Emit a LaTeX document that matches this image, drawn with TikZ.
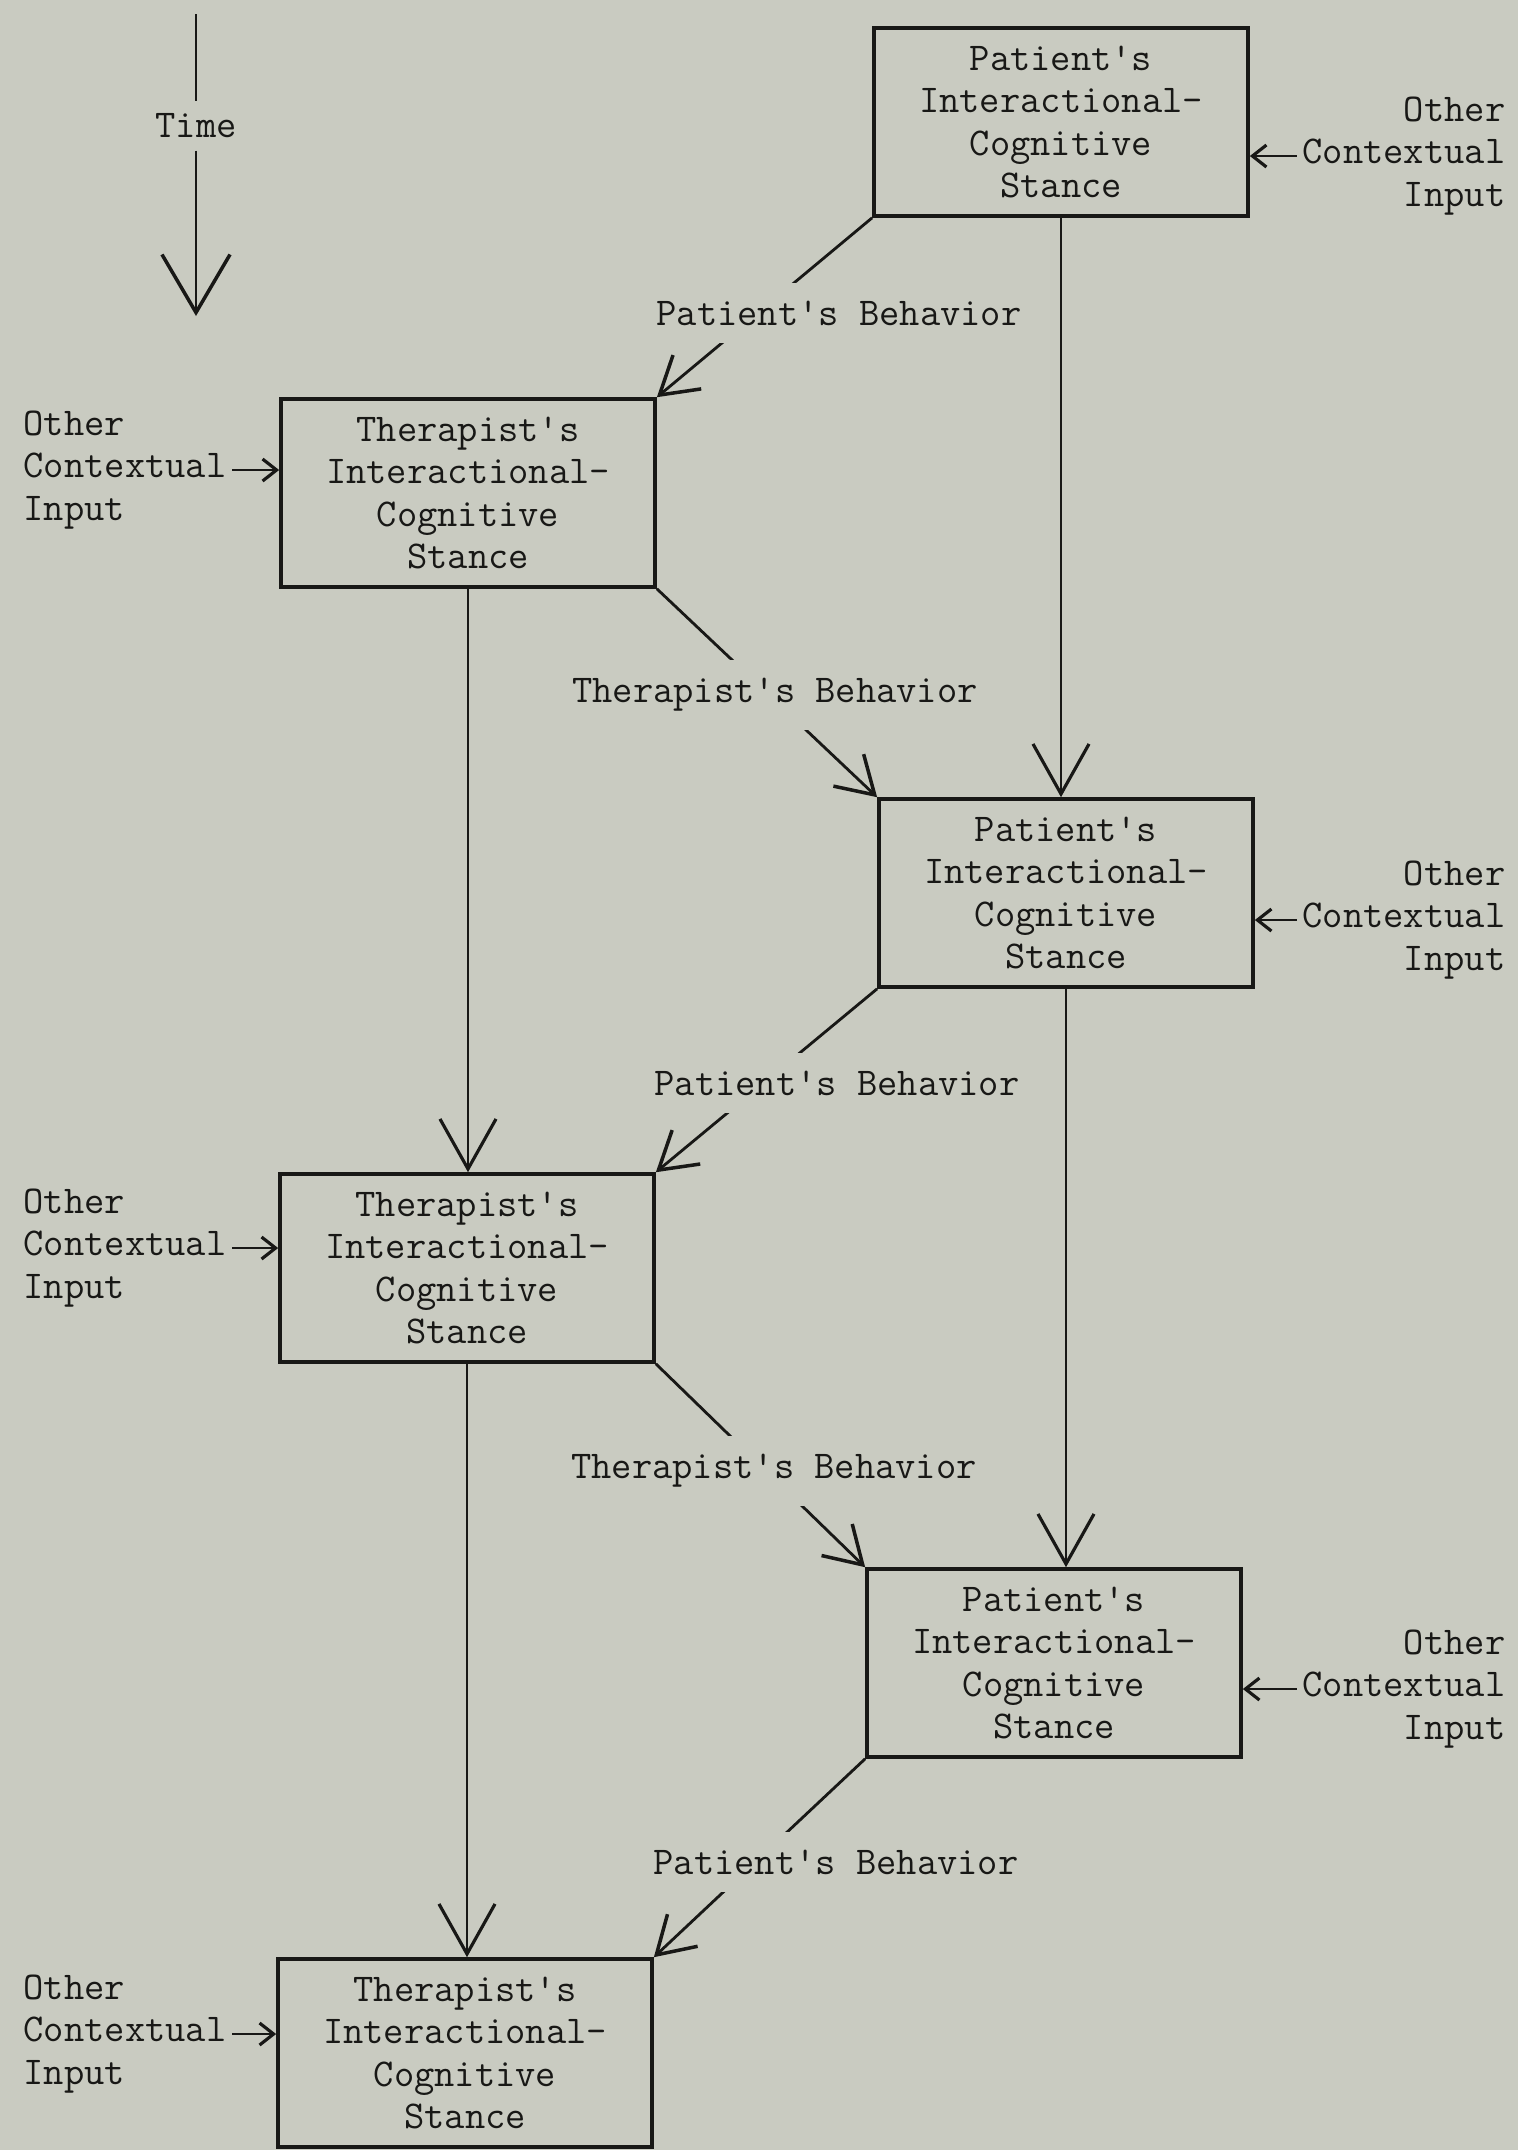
\documentclass[tikz,border=0pt]{standalone}
\usepackage{fontspec}
\usetikzlibrary{arrows.meta}
\definecolor{paper}{RGB}{201,203,193}
\definecolor{ink}{RGB}{24,24,22}
\begin{document}
\begin{tikzpicture}[x=.01cm,y=-.01cm,
            every node/.style={font=\ttfamily\fontsize{11.2}{12.1}\selectfont,text=ink},
            stance/.style={draw=ink,line width=1pt,minimum width=3.74cm,minimum height=1.88cm,align=center,inner sep=0pt},
            ctxl/.style={align=left,inner sep=.05cm,anchor=west},
            ctxr/.style={align=right,inner sep=.05cm,anchor=east},
            beh/.style={fill=paper,inner sep=.18cm},
            ttip/.style={-{Straight Barb[length=.58cm,width=.68cm,line width=1pt]}},
            vtip/.style={-{Straight Barb[length=.5cm,width=.56cm,line width=.9pt]}},
            dtip/.style={-{Straight Barb[length=.36cm,width=.44cm,line width=1pt]}},
            itip/.style={-{Straight Barb[length=.14cm,width=.22cm,line width=.9pt]}}]
            \fill[paper,use as bounding box] (0,0) rectangle (1518,2150);
            \path
            (196,126) node (time) {Time} % <<< trục thời gian
            (196,14) coordinate (ttop)
            (196,316) coordinate (tbot)
            (1061,122) node[stance] (P1) {Patient's\\Interactional-\\Cognitive\\Stance} % <<< tầng 1
            (1511,156) node[ctxr] (cP1) {Other\\Contextual\\Input}
            (468,493) node[stance] (T1) {Therapist's\\Interactional-\\Cognitive\\Stance} % <<< tầng 2
            (18,470) node[ctxl] (cT1) {Other\\Contextual\\Input}
            (1066,893) node[stance] (P2) {Patient's\\Interactional-\\Cognitive\\Stance} % <<< tầng 3
            (1511,920) node[ctxr] (cP2) {Other\\Contextual\\Input}
            (467,1268) node[stance] (T2) {Therapist's\\Interactional-\\Cognitive\\Stance} % <<< tầng 4
            (18,1248) node[ctxl] (cT2) {Other\\Contextual\\Input}
            (1054,1663) node[stance] (P3) {Patient's\\Interactional-\\Cognitive\\Stance} % <<< tầng 5
            (1511,1689) node[ctxr] (cP3) {Other\\Contextual\\Input}
            (465,2053) node[stance] (T3) {Therapist's\\Interactional-\\Cognitive\\Stance} % <<< tầng 6
            (18,2034) node[ctxl] (cT3) {Other\\Contextual\\Input};
            \begin{scope}[draw=ink,line width=.8pt]
                \draw (ttop)--(time);
                \draw[ttip] (time)--(tbot);
                \draw[dtip] (P1.south west)--(T1.north east);
                \draw[dtip] (T1.south east)--(P2.north west);
                \draw[dtip] (P2.south west)--(T2.north east);
                \draw[dtip] (T2.south east)--(P3.north west);
                \draw[dtip] (P3.south west)--(T3.north east);
            \end{scope}
            \begin{scope}[draw=ink,line width=.5pt,vtip]
                \draw (P1.south)--(P1.south |- P2.north);
                \draw (P2.south)--(P2.south |- P3.north);
                \draw (T1.south)--(T1.south |- T2.north);
                \draw (T2.south)--(T2.south |- T3.north);
            \end{scope}
            \begin{scope}[draw=ink,line width=.7pt,itip]
                \draw (cP1.west)--(cP1.west -| P1.east);
                \draw (cP2.west)--(cP2.west -| P2.east);
                \draw (cP3.west)--(cP3.west -| P3.east);
                \draw (cT1.east)--(cT1.east -| T1.west);
                \draw (cT2.east)--(cT2.east -| T2.west);
                \draw (cT3.east)--(cT3.east -| T3.west);
            \end{scope}
            \path
            (839,313) node[beh] (pb1) {Patient's Behavior}
            (775,695) node[beh] (tb1) {Therapist's Behavior}
            (837,1083) node[beh] (pb2) {Patient's Behavior}
            (774,1471) node[beh] (tb2) {Therapist's Behavior}
            (836,1862) node[beh] (pb3) {Patient's Behavior};
\end{tikzpicture}
\end{document}
